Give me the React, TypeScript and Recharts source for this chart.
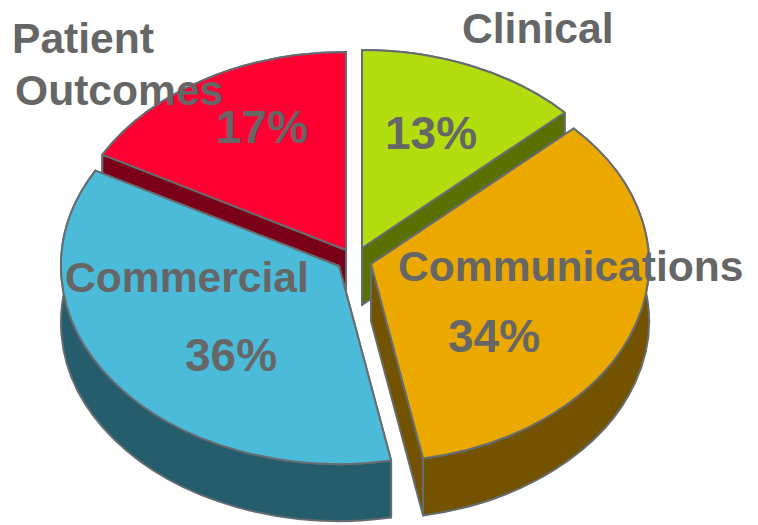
import React from 'react';
import { PieChart, Pie } from 'recharts';

// Draw order runs back to front, so Patient Outcomes goes first
const categories = ['Patient Outcomes', 'Clinical', 'Communications', 'Commercial'];
const shares = [17, 13, 34, 36];

const topColors = ['#FF0033', '#B2DE10', '#EBA900', '#4CBAD9'];
const sideColors = ['#7A0019', '#5A7000', '#735300', '#265D6C'];

// Exploded centre of each slice, in chart pixels
const sliceCentres = [
  { x: 346, y: 250 },
  { x: 362, y: 248 },
  { x: 371, y: 264 },
  { x: 339, y: 266 },
];

// Name lines and percentage anchors
const nameSpots = [
  [{ x: 12, y: 53 }, { x: 15, y: 105 }],
  [{ x: 462, y: 43 }],
  [{ x: 398, y: 281 }],
  [{ x: 65, y: 292 }],
];
const valueSpots = [
  { x: 216, y: 143 },
  { x: 385, y: 149 },
  { x: 448, y: 352 },
  { x: 185, y: 371 },
];

const WIDTH = 758;
const HEIGHT = 525;
const RX = 278;
const RY = 198;
const DEPTH = 57;
const EDGE = '#666C70';
const TEXT = '#666666';

const tableData = categories.map((name, i) => ({ name, value: shares[i], idx: i }));
const START_ANGLE = 90 + (shares[0] / 100) * 360;

const Wedge = (props: any) => {
  const { startAngle, endAngle, idx } = props;
  const { x: cx, y: cy } = sliceCentres[idx];
  const point = (deg: number, drop = 0) => {
    const rad = (deg * Math.PI) / 180;
    return `${cx + RX * Math.cos(rad)} ${cy - RY * Math.sin(rad) + drop}`;
  };
  const large = Math.abs(startAngle - endAngle) > 180 ? 1 : 0;
  const arc = `A ${RX} ${RY} 0 ${large} 1 ${point(endAngle)}`;
  const arcBack = `A ${RX} ${RY} 0 ${large} 0 ${point(startAngle, DEPTH)}`;
  const side = { fill: sideColors[idx], stroke: EDGE, strokeWidth: 2, strokeLinejoin: 'round' as const };

  const wall = <path {...side} d={`M ${point(startAngle)} ${arc} L ${point(endAngle, DEPTH)} ${arcBack} Z`} />;
  // The two back slices hide the wall behind their cut faces, the front ones show it
  const isBackSlice = idx < 2;

  return (
    <g>
      {isBackSlice && wall}
      <path {...side} d={`M ${cx} ${cy} L ${point(startAngle)} L ${point(startAngle, DEPTH)} L ${cx} ${cy + DEPTH} Z`} />
      <path {...side} d={`M ${cx} ${cy} L ${point(endAngle)} L ${point(endAngle, DEPTH)} L ${cx} ${cy + DEPTH} Z`} />
      {!isBackSlice && wall}
      <path
        d={`M ${cx} ${cy} L ${point(startAngle)} ${arc} Z`}
        fill={topColors[idx]}
        stroke={EDGE}
        strokeWidth={2}
        strokeLinejoin="round"
      />
    </g>
  );
};

const SliceLabel = (props: any) => {
  const { idx, name, value } = props;
  const lines = idx === 0 ? name.split(' ') : [name];
  const style = { fill: TEXT, fontFamily: '"Liberation Sans", Arial, sans-serif', fontWeight: 700 };
  return (
    <g>
      {lines.map((line: string, i: number) => (
        <text key={line} x={nameSpots[idx][i].x} y={nameSpots[idx][i].y} fontSize={42.6} style={style}>
          {line}
        </text>
      ))}
      <text x={valueSpots[idx].x} y={valueSpots[idx].y} fontSize={46} style={style}>
        {`${value}%`}
      </text>
    </g>
  );
};

export default function App() {
  return (
    <div style={{ position: 'absolute', left: 0, top: 0, width: WIDTH, height: HEIGHT, background: '#fff' }}>
      <PieChart width={WIDTH} height={HEIGHT} margin={{ top: 0, right: 0, bottom: 0, left: 0 }}>
        <Pie
          data={tableData}
          dataKey="value"
          nameKey="name"
          cx={355}
          cy={255}
          innerRadius={0}
          outerRadius={RX}
          startAngle={START_ANGLE}
          endAngle={START_ANGLE - 360}
          paddingAngle={0}
          stroke="none"
          shape={(p: any) => <Wedge {...p} />}
          label={(p: any) => <SliceLabel {...p} />}
          labelLine={false}
          isAnimationActive={false}
        />
      </PieChart>
    </div>
  );
}
